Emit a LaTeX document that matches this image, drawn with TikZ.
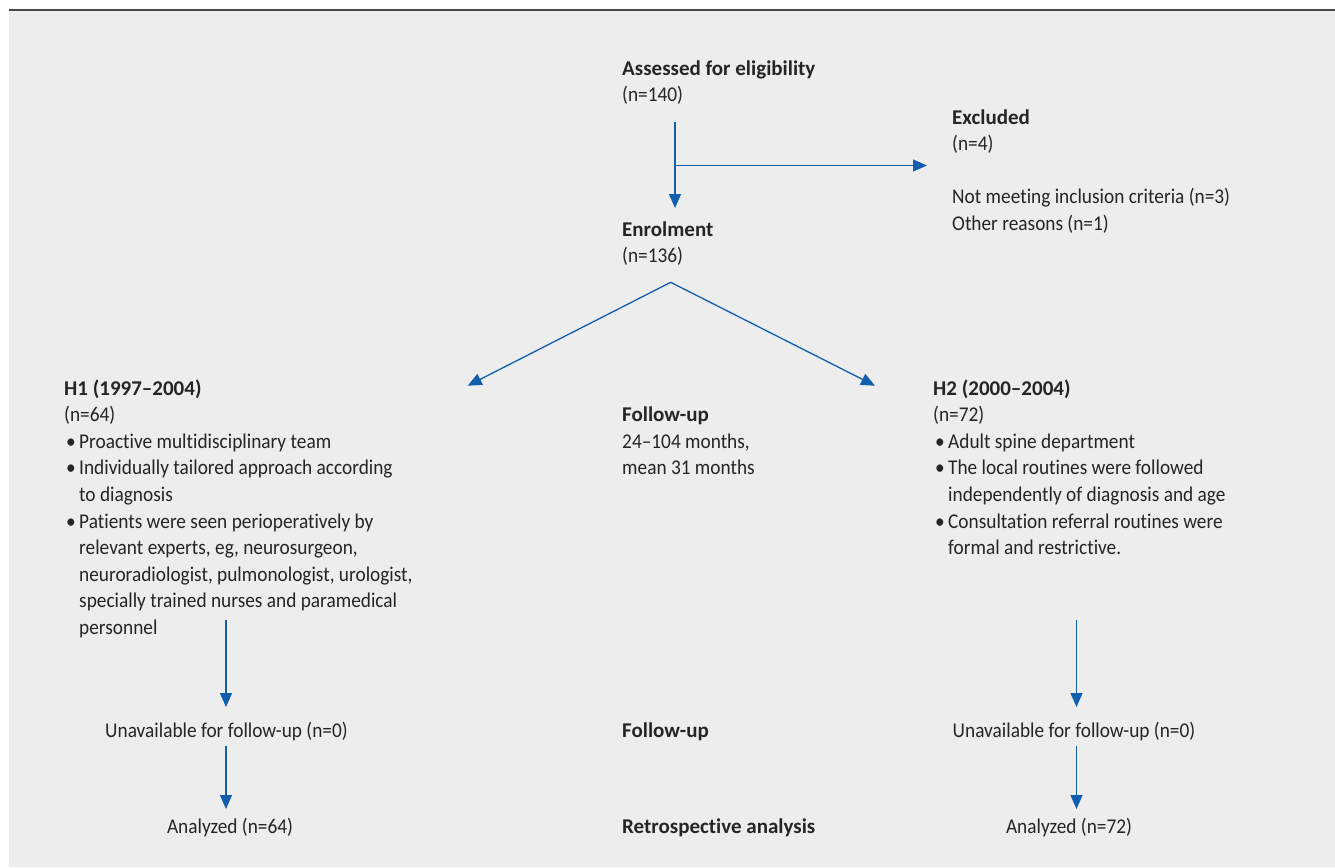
\documentclass[tikz,border=0pt]{standalone}
\usepackage{fontspec}
\setmainfont[FakeStretch=0.92,Ligatures={TeX,NoCommon},BoldFeatures={FakeStretch=1.0}]{Carlito}
\usetikzlibrary{arrows.meta}
\definecolor{bg}{RGB}{237,237,237}
\definecolor{arr}{RGB}{16,94,173}
\definecolor{txt}{RGB}{38,36,37}
\definecolor{rule}{RGB}{70,70,70}
\newcommand{\blk}[1]{\vtop{\baselineskip=26.6pt\lineskiplimit=-100pt #1}}
\newcommand{\rowline}[1]{\hbox{#1}}
\newcommand{\bul}[1]{\hbox{\makebox[15pt][l]{\hspace{2pt}•}#1}}
\newcommand{\cont}[1]{\hbox{\hspace{15pt}#1}}
\begin{document}
\begin{tikzpicture}[x=1pt,y=-1pt,
  tx/.style={inner sep=0pt,text=txt,font=\fontsize{21}{26.6}\selectfont},
  flow/.style={draw=arr,line width=1.3pt,-{Triangle[length=14pt,width=12pt]}}]
\useasboundingbox (0,0) rectangle (1335,867);
\fill[bg] (9,10) rectangle (1335,867);
\draw[rule,line width=2pt] (9,10) -- (1335,10);

% texts
\node[tx,anchor=base west] (assess) at (622,75) {\blk{\rowline{\bfseries Assessed for eligibility}\rowline{(n=140)}}};
\node[tx,anchor=base west] (excl) at (952,124) {\blk{\rowline{\bfseries Excluded}\rowline{(n=4)}\rowline{}\rowline{Not meeting inclusion criteria (n=3)}\rowline{Other reasons (n=1)}}};
\node[tx,anchor=base west] (enrol) at (622,236) {\blk{\rowline{\bfseries Enrolment}\rowline{(n=136)}}};
\node[tx,anchor=base west] (h1) at (64,395) {\blk{\rowline{\bfseries H1 (1997--2004)}\rowline{(n=64)}%
  \bul{Proactive multidisciplinary team}\bul{Individually tailored approach according}\cont{to diagnosis}%
  \bul{Patients were seen perioperatively by}\cont{relevant experts, eg, neurosurgeon,}%
  \cont{neuroradiologist, pulmonologist, urologist,}\cont{specially trained nurses and paramedical}\cont{personnel}}};
\node[tx,anchor=base west] (fu1) at (622,421.7) {\blk{\rowline{\bfseries Follow-up}\rowline{24--104 months,}\rowline{mean 31 months}}};
\node[tx,anchor=base west] (h2) at (933,395) {\blk{\rowline{\bfseries H2 (2000--2004)}\rowline{(n=72)}%
  \bul{Adult spine department}\bul{The local routines were followed}\cont{independently of diagnosis and age}%
  \bul{Consultation referral routines were}\cont{formal and restrictive.}}};
\node[tx,anchor=base] (un1) at (226.5,737) {Unavailable for follow-up (n=0)};
\node[tx,anchor=base] (an1) at (230,833) {Analyzed (n=64)};
\node[tx,anchor=base west] (fu2) at (622,737) {\bfseries Follow-up};
\node[tx,anchor=base west] (retro) at (622,833) {\bfseries Retrospective analysis};
\node[tx,anchor=base] (un2) at (1074,737) {Unavailable for follow-up (n=0)};
\node[tx,anchor=base] (an2) at (1069,833) {Analyzed (n=72)};

% connector points
\coordinate (aS) at (675,122);
\coordinate (aE) at (675,208);
\coordinate (bS) at (675,165.5);
\coordinate (bE) at (927,165.5);
\coordinate (apex) at (670.7,282.3);
\coordinate (h1in) at (467.7,385.7);
\coordinate (h2in) at (875,385.7);
\coordinate (l1) at (226,620);
\coordinate (l2) at (226,707);
\coordinate (l3) at (226,746);
\coordinate (l4) at (226,809);
\coordinate (r1) at (1076.5,620);
\coordinate (r2) at (1076.5,707);
\coordinate (r3) at (1076.5,746);
\coordinate (r4) at (1076.5,809);

\draw[flow] (aS) -- (aE);
\draw[flow] (bS) -- (bE);
\draw[flow] (apex) -- (h1in);
\draw[flow] (apex) -- (h2in);
\draw[flow] (l1) -- (l2);
\draw[flow] (l3) -- (l4);
\draw[flow] (r1) -- (r2);
\draw[flow] (r3) -- (r4);
\end{tikzpicture}
\end{document}
